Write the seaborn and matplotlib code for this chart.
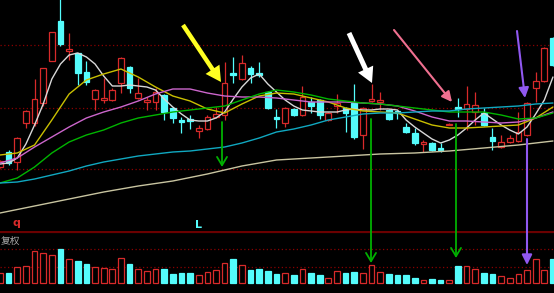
import matplotlib
matplotlib.use("Agg")
import matplotlib.pyplot as plt
import numpy as np
import pandas as pd
import seaborn as sns

# ---------------- data ----------------
days = list(range(65))
open_ = [7.3, 8.8, 7.8, 11.7, 11.7, 13.7, 17.9, 21.9, 18.9, 18.7,
         16.8, 14.1, 14.0, 14.0, 15.7, 17.3, 14.2, 13.8, 13.8, 14.5,
         13.2, 12.0, 12.1, 10.9, 11.1, 12.3, 12.5, 16.7, 16.1, 17.2,
         16.7, 14.8, 12.3, 11.7, 13.1, 12.5, 13.8, 14.0, 12.0, 13.4,
         13.2, 13.7, 10.5, 13.9, 13.8, 13.0, 12.9, 11.3, 10.7, 9.6,
         9.7, 9.2, 11.55, 13.3, 13.1, 12.8, 12.7, 10.3, 9.3, 9.8,
         9.9, 10.5, 15.2, 15.9, 20.2]
close = [7.9, 7.7, 10.2, 12.9, 14.1, 17.2, 20.8, 19.6, 19.1, 16.7,
         15.8, 15.0, 14.2, 15.0, 18.2, 15.2, 14.7, 14.0, 14.8, 12.8,
         12.2, 11.8, 11.9, 11.2, 12.3, 12.6, 15.7, 16.5, 17.7, 16.6,
         16.5, 13.2, 12.1, 13.2, 12.5, 14.3, 13.4, 12.5, 12.7, 13.7,
         12.7, 10.3, 13.2, 14.1, 14.0, 12.1, 12.7, 10.8, 9.7, 9.8,
         9.0, 9.0, 11.65, 13.1, 13.6, 13.5, 11.5, 9.9, 9.8, 10.2,
         10.8, 13.7, 15.9, 19.2, 17.5]
high = [8.0, 9.0, 10.3, 13.0, 16.1, 17.2, 20.8, 24.5, 20.7, 18.7,
        17.9, 15.1, 16.2, 15.2, 18.3, 17.4, 16.2, 14.3, 15.2, 14.6,
        13.3, 12.3, 12.5, 11.5, 12.5, 13.3, 17.8, 18.3, 18.5, 17.4,
        17.8, 14.9, 13.1, 13.3, 13.2, 15.4, 14.3, 14.1, 12.8, 14.6,
        13.3, 15.6, 13.3, 15.6, 14.8, 13.1, 13.0, 11.7, 11.2, 10.0,
        9.8, 9.7, 11.7, 14.2, 15.4, 14.8, 13.2, 11.2, 10.5, 10.5,
        12.8, 13.8, 16.8, 19.3, 20.3]
low = [7.2, 7.5, 7.0, 11.2, 11.4, 13.4, 17.9, 19.4, 18.0, 15.5,
       15.5, 13.0, 13.7, 13.9, 14.7, 14.7, 14.1, 13.0, 13.0, 12.0,
       11.7, 10.7, 11.1, 10.2, 11.0, 12.2, 12.0, 15.7, 16.0, 15.7,
       16.3, 13.1, 11.2, 11.3, 12.4, 12.4, 12.7, 12.1, 11.9, 12.7,
       10.8, 10.1, 9.1, 13.8, 13.0, 12.0, 12.1, 10.7, 9.5, 8.8,
       8.9, 8.8, 11.5, 12.3, 11.0, 11.5, 11.4, 9.0, 9.2, 9.7,
       9.8, 10.4, 13.8, 15.8, 17.4]
volume = [32, 32, 50, 52, 98, 91, 84, 104, 72, 68,
          58, 50, 47, 42, 75, 58, 44, 37, 42, 42,
          29, 32, 30, 24, 34, 39, 60, 73, 55, 39,
          44, 37, 27, 30, 24, 42, 30, 24, 16, 37,
          32, 35, 30, 55, 34, 27, 24, 24, 16, 11,
          14, 11, 11, 53, 52, 44, 32, 27, 22, 16,
          27, 39, 73, 39, 73]

# moving-average lines
ma5 = [7.6, 7.7, 8.2, 9.6, 11.5, 13.6, 16.1, 17.6, 18.5, 18.7,
       18.3, 17.6, 16.4, 15.4, 15.4, 15.5, 15.4, 15.3, 15.0, 14.1,
       13.3, 12.6, 12.0, 11.9, 11.9, 12.2, 12.8, 14.1, 15.3, 16.2,
       16.6, 15.6, 14.8, 14.0, 13.4, 13.0, 12.9, 12.8, 12.8, 12.8,
       13.0, 13.1, 13.0, 13.0, 13.1, 13.1, 13.0, 12.0, 11.3, 10.7,
       10.1, 9.7, 10.0, 10.5, 11.2, 12.0, 12.7, 12.1, 11.5, 11.0,
       10.6, 11.3, 12.6, 14.0, 16.3]
days_even = list(range(0, 65, 2))
ma10 = [8.5, 8.7, 9.5, 12.0, 14.6, 16.0, 16.6, 17.1, 16.3, 15.3,
        14.4, 13.9, 13.1, 12.7, 13.6, 14.4, 14.7, 14.6, 14.2, 13.8,
        13.2, 12.9, 12.8, 12.7, 12.1, 11.5, 11.2, 11.2, 11.3, 11.4,
        11.5, 12.2, 13.3]
ma20 = [7.7, 8.2, 9.3, 10.3, 11.3, 12.2, 12.8, 13.3, 13.9, 14.6,
        15.1, 15.1, 14.7, 14.4, 14.3, 14.3, 14.2, 14.0, 13.8, 13.8,
        13.8, 13.7, 13.6, 13.4, 12.9, 12.3, 11.9, 11.9, 11.8, 11.7,
        11.8, 12.2, 12.8]
ma30 = [5.7, 6.2, 7.3, 8.7, 9.8, 10.5, 11.0, 11.7, 12.2, 12.5,
        12.8, 13.0, 13.2, 13.4, 14.0, 14.6, 15.0, 14.8, 14.5, 14.1,
        13.9, 13.7, 13.6, 13.4, 13.2, 13.0, 12.8, 12.8, 12.8, 12.5,
        12.1, 12.2, 12.7]
ma60 = [5.7, 5.8, 6.1, 6.5, 6.9, 7.4, 7.8, 8.1, 8.4, 8.6,
        8.8, 8.9, 9.1, 9.3, 9.7, 10.2, 10.8, 11.1, 11.5, 12.0,
        12.3, 12.6, 12.7, 12.7, 12.8, 12.9, 12.9, 13.1, 13.2, 13.3,
        13.4, 13.6, 13.7]
days_q = list(range(0, 65, 4))
ma120 = [2.7, 3.4, 4.1, 4.8, 5.4, 5.9, 6.6, 7.4, 8.0, 8.2,
         8.4, 8.6, 8.7, 8.9, 9.2, 9.5, 9.9]

grid_levels = [19.5, 13.25, 7.1]
vol_grid_levels = [102, 50]

# ---------------- style ----------------
sns.set_style("dark", rc={"axes.facecolor": "black", "figure.facecolor": "black"})
plt.rcParams["font.family"] = ["Noto Sans CJK SC", "DejaVu Sans"]

RED = "#d82a2a"
CYAN = "#54fcfc"

W, H = 554, 293
fig = plt.figure(figsize=(W / 100, H / 100), dpi=100)
fig.patch.set_facecolor("black")
ax = fig.add_axes([0, 62 / H, 1, 231 / H])
vax = fig.add_axes([0, 0, 1, 62 / H])
for a in (ax, vax):
    a.set_facecolor("none")
    a.set_xticks([]); a.set_yticks([])
    for s in a.spines.values():
        s.set_visible(False)
    a.set_xlim(0, 554 / 8.64)
ax.set_ylim(0.9, 24.0)
vax.set_ylim(-29, 157)

df = pd.DataFrame({"day": days, "open": open_, "close": close,
                   "high": high, "low": low, "volume": volume})
df["up"] = df["close"] >= df["open"]
df["top"] = df[["open", "close"]].max(axis=1)
df["bot"] = df[["open", "close"]].min(axis=1)
df["body"] = (df["top"] - df["bot"]).clip(lower=0.05)

# grid lines
for g in grid_levels:
    ax.axhline(g, color="#8a0000", lw=0.9, ls=(0, (1, 2)), zorder=1)
for g in vol_grid_levels:
    vax.axhline(g, color="#8a0000", lw=0.9, ls=(0, (1, 2)), zorder=1)
vax.axhline(155, color="#6a0000", lw=1.6, zorder=1)

# candles
bw = 0.66
for up, d in df.groupby("up"):
    col = RED if up else CYAN
    ax.vlines(d["day"], d["top"], d["high"], color=col, lw=0.9, zorder=4)
    ax.vlines(d["day"], d["low"], d["bot"], color=col, lw=0.9, zorder=4)
    ax.bar(d["day"], d["body"], bottom=d["bot"], width=bw,
           facecolor="black" if up else col, edgecolor=col, lw=0.9, zorder=4)
    vax.bar(d["day"], d["volume"], width=bw,
            facecolor="black" if up else col, edgecolor=col, lw=0.9, zorder=3)

# moving averages
ma_lines = [
    (days, ma5, "#d8d8d8"),
    (days_even, ma10, "#c9bf00"),
    (days_even, ma20, "#cc66cc"),
    (days_even, ma30, "#00b400"),
    (days_even, ma60, "#10a8c0"),
    (days_q, ma120, "#c8c4a0"),
]
for xs, ys, c in ma_lines:
    sns.lineplot(x=xs, y=ys, ax=ax, color=c, lw=1.0, sort=False, zorder=5)

ax.set_xlim(0, 554 / 8.64)
ax.set_ylim(0.9, 24.0)
ax.set_xlabel(""); ax.set_ylabel("")

# labels
ax.text(1.85, 1.4, "q", color=RED, fontsize=8, fontweight="bold",
        ha="center", va="baseline", family=["DejaVu Sans"], zorder=6)
ax.text(23.0, 1.2, "L", color=CYAN, fontsize=8, fontweight="bold",
        ha="center", va="baseline", family=["DejaVu Sans"], zorder=6)
vax.text(0.5 / W, 0.84, "复权", color="#a8a8a8", fontsize=7,
         ha="left", va="center", transform=vax.transAxes,
         family=["Noto Sans CJK SC", "DejaVu Sans"], zorder=6)

# annotation arrows (figure pixels, y from top)
def P(x, y):
    return (x, H - y)

def arrow(tail, tip, color, style, lw=0, ms=10):
    fig.add_artist(matplotlib.patches.FancyArrowPatch(
        P(*tail), P(*tip), transform=None, arrowstyle=style, color=color,
        lw=lw, mutation_scale=ms, shrinkA=0, shrinkB=0, zorder=10))

arrow((183, 25), (221, 82), "#ffff22",
      "simple,head_length=1.1,head_width=1.2,tail_width=0.32", ms=10)
arrow((349, 33), (372, 83), "#ffffff",
      "simple,head_length=1.1,head_width=1.2,tail_width=0.36", ms=10)
arrow((394, 30), (452, 102), "#f07090", "-|>,head_length=0.5,head_width=0.25", lw=1.5, ms=12)
arrow((517, 31), (525, 98), "#9058f0", "-|>,head_length=0.5,head_width=0.25", lw=1.5, ms=12)
arrow((222, 122), (222, 167), "#00b000", "->,head_length=0.5,head_width=0.3", lw=1.3, ms=12)
arrow((371, 119), (371, 263), "#00b000", "->,head_length=0.5,head_width=0.3", lw=1.3, ms=12)
arrow((456, 124), (456, 258), "#00b000", "->,head_length=0.5,head_width=0.3", lw=1.3, ms=12)
arrow((527, 139), (527, 265), "#9058f0", "-|>,head_length=0.5,head_width=0.25", lw=1.5, ms=12)

fig.savefig("out.png", dpi=100, facecolor="black")
